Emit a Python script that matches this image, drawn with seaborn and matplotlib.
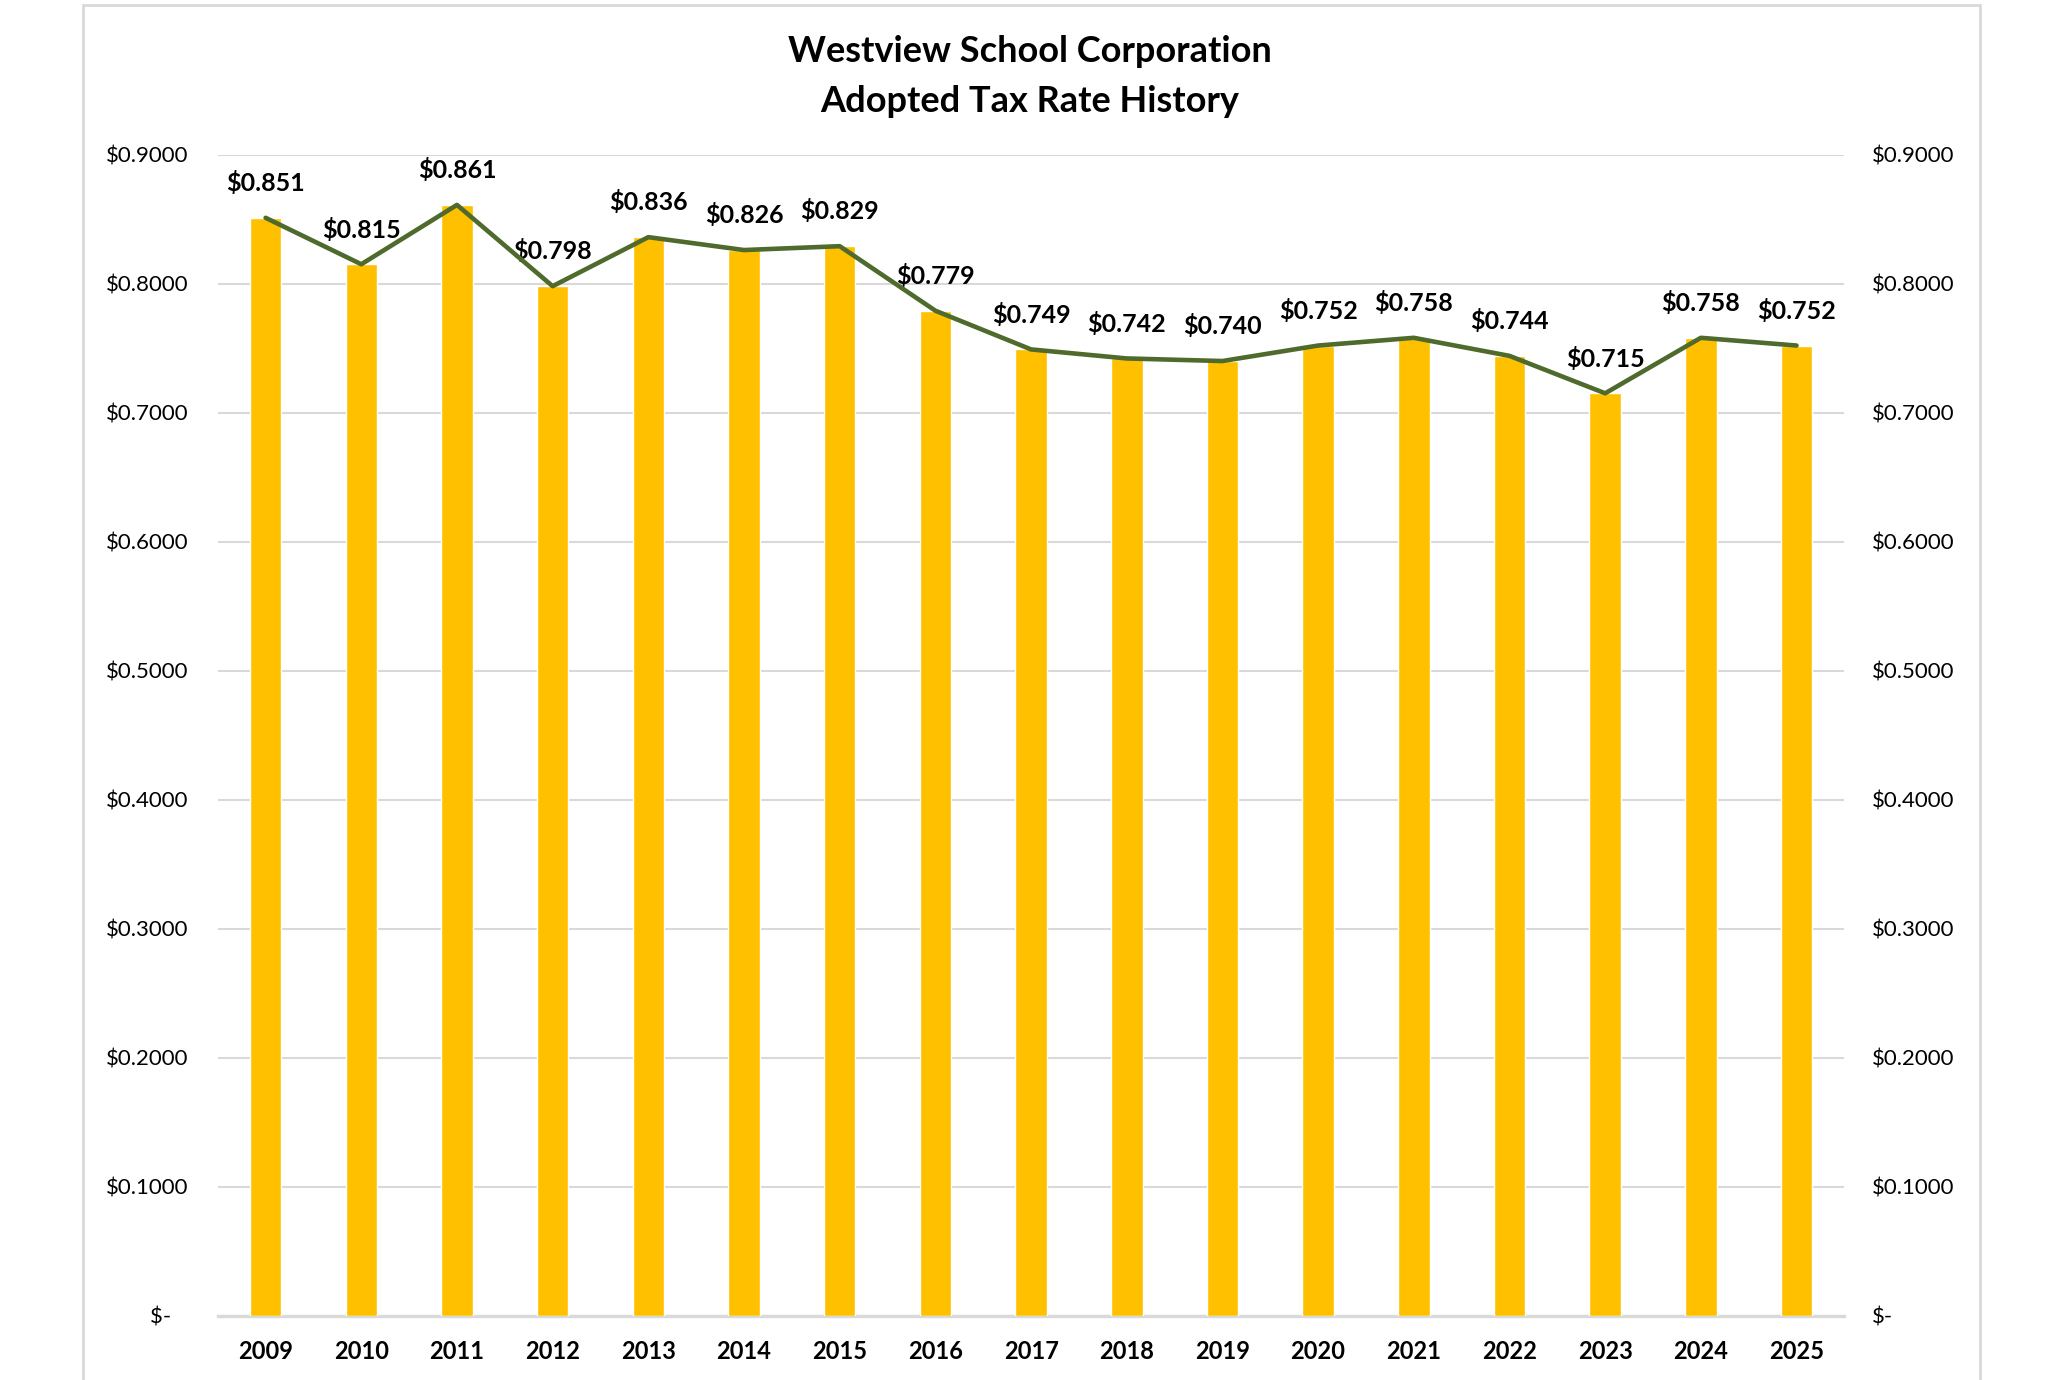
import matplotlib
matplotlib.use("Agg")
import matplotlib.pyplot as plt
import seaborn as sns
import numpy as np
import pandas as pd
from matplotlib.patches import Rectangle
from matplotlib.ticker import FixedLocator, FuncFormatter

years = ["2009", "2010", "2011", "2012", "2013", "2014", "2015", "2016", "2017",
         "2018", "2019", "2020", "2021", "2022", "2023", "2024", "2025"]
rates = [0.851, 0.815, 0.861, 0.798, 0.836, 0.826, 0.829, 0.779, 0.749,
         0.742, 0.740, 0.752, 0.758, 0.744, 0.715, 0.758, 0.752]
yticks = [0.0, 0.1, 0.2, 0.3, 0.4, 0.5, 0.6, 0.7, 0.8, 0.9]
title_line1 = "Westview School Corporation"
title_line2 = "Adopted Tax Rate History"

BAR = "#FFC000"
LINE = "#4E6A2C"
GRID = "#D9D9D9"
FONT = "Lato"

sns.set_theme(style="white")
plt.rcParams["font.family"] = [FONT, "DejaVu Sans"]
plt.rcParams["text.color"] = "black"
plt.rcParams["xtick.color"] = "black"
plt.rcParams["ytick.color"] = "black"
plt.rcParams["xtick.labelcolor"] = "black"
plt.rcParams["ytick.labelcolor"] = "black"

df = pd.DataFrame({"year": years, "rate": rates})

fig = plt.figure(figsize=(20.7, 13.8), dpi=100)
ax = fig.add_axes([0.1052, 0.0464, 0.7858, 0.8416])

sns.barplot(data=df, x="year", y="rate", color=BAR, saturation=1, width=0.33, ax=ax, zorder=3)
ax.set_xlim(-0.5, len(years) - 0.5)
ax.set_ylim(0, 0.9)

def fmt(v, pos=None):
    if abs(v) < 1e-9:
        return "$-   "
    return f"${v:.4f}"

def fmt_r(v, pos=None):
    if abs(v) < 1e-9:
        return "$-"
    return f"${v:.4f}"

ax.yaxis.set_major_locator(FixedLocator(yticks))
ax.yaxis.set_major_formatter(FuncFormatter(fmt))
ax.grid(axis="y", color=GRID, linewidth=1.5, zorder=0)
ax.grid(axis="x", visible=False)
ax.set_axisbelow(True)
for s in ["top", "left", "right"]:
    ax.spines[s].set_visible(False)
ax.spines["bottom"].set_color(GRID)
ax.spines["bottom"].set_linewidth(2.4)
ax.tick_params(axis="y", length=0, pad=21, labelsize=16, labelcolor="black")
ax.tick_params(axis="x", length=0, pad=17, labelsize=17, labelcolor="black")
for t in ax.get_xticklabels():
    t.set_fontweight("bold")
ax.set_xlabel("")
ax.set_ylabel("")

ax2 = ax.twinx()
pos = np.arange(len(years))
sns.lineplot(x=pos, y=rates, color=LINE, linewidth=3.3, ax=ax2, zorder=4)
ax2.set_xlim(-0.5, len(years) - 0.5)
ax2.set_ylim(0, 0.9)
ax2.yaxis.set_major_locator(FixedLocator(yticks))
ax2.yaxis.set_major_formatter(FuncFormatter(fmt_r))
ax2.tick_params(axis="y", length=0, pad=20, labelsize=16, labelcolor="black")
for s in ["top", "left", "right", "bottom"]:
    ax2.spines[s].set_visible(False)
ax2.grid(False)
ax2.set_ylabel("")

for x, v in zip(pos, rates):
    ax2.annotate(f"${v:.3f}", xy=(x, v), xytext=(0, 25), textcoords="offset points",
                 ha="center", va="center", fontsize=18, fontweight="bold", color="black")

fig.text(0.4976, 0.9625, title_line1, ha="center", va="center", fontsize=26,
         fontweight="bold", color="black")
fig.text(0.4976, 0.9265, title_line2, ha="center", va="center", fontsize=26,
         fontweight="bold", color="black")

fig.patches.append(Rectangle((0.040, -0.05), 0.9165, 1.0464, transform=fig.transFigure,
                             fill=False, edgecolor=GRID, linewidth=2.0, zorder=0))

fig.savefig("out.png", dpi=100)
